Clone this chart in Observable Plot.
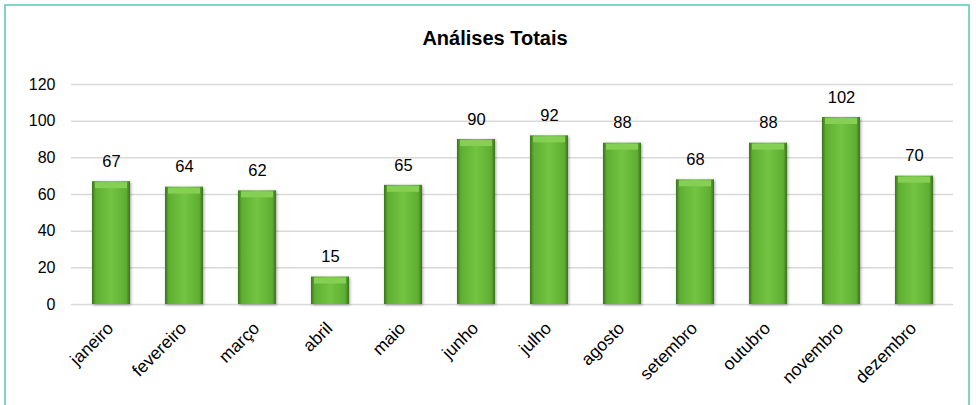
<!DOCTYPE html>
<html>
<head>
<meta charset="utf-8">
<script src="https://cdn.jsdelivr.net/npm/d3@7"></script>
<script src="https://cdn.jsdelivr.net/npm/@observablehq/plot@0.6"></script>
<style>
  html, body { margin: 0; padding: 0; background: #fff; }
  body { width: 976px; height: 405px; position: relative; overflow: hidden; font-family: "Liberation Sans", Arial, sans-serif; }
  #frame { position: absolute; left: 4px; top: 4px; width: 966px; height: 410px; border: 2px solid #7fd5c9; box-sizing: border-box; }
  #title { position: absolute; left: 0; top: 27px; width: 990px; text-align: center; font-size: 20px; line-height: 23px; font-weight: bold; color: #000; }
  #chart { position: absolute; left: 0; top: 60px; }
</style>
</head>
<body>
<div id="frame"></div>
<div id="title">Análises Totais</div>
<div id="chart"></div>
<script>
const months = ["janeiro","fevereiro","março","abril","maio","junho","julho","agosto","setembro","outubro","novembro","dezembro"];
const values = [67,64,62,15,65,90,92,88,68,88,102,70];
const yTicks = [0,20,40,60,80,100,120];

const data = months.map((m, i) => ({month: m, value: values[i]}));

const plot = Plot.plot({
  width: 976,
  height: 345,
  marginLeft: 71,
  marginRight: 23,
  marginTop: 24,
  marginBottom: 101,
  style: {fontFamily: "'Liberation Sans', Arial, sans-serif", fontSize: "16px", color: "#000", background: "transparent"},
  x: {domain: months, paddingInner: 0.48, paddingOuter: 0.24, label: null},
  y: {domain: [0, 120], label: null},
  marks: [
    Plot.gridY(yTicks, {stroke: "#d9d9d9", strokeOpacity: 1, strokeWidth: 1.5}),
    Plot.axisY({ticks: yTicks, tickSize: 0, tickPadding: 16, fontSize: 16, label: null}),
    Plot.axisX({tickSize: 0, tickPadding: 21, tickRotate: -45, dx: -1, fontSize: 17.5, label: null}),
    Plot.barY(data, {x: "month", y: "value", fill: "url(#barGrad)", imageFilter: "drop-shadow(1px 1px 1.5px rgba(0,0,0,0.35))"}),
    Plot.tickY(data, {x: "month", y: "value", stroke: "#86cf55", strokeWidth: 6, dy: 3.5, inset: 3}),
    Plot.text(data, {x: "month", y: "value", text: d => String(d.value), dy: -20, fontSize: 16.5, fill: "#000"})
  ]
});

// gradient defs
const ns = "http://www.w3.org/2000/svg";
const defs = document.createElementNS(ns, "defs");
defs.innerHTML = `
  <linearGradient id="barGrad" x1="0" x2="1" y1="0" y2="0">
    <stop offset="0" stop-color="#3b721c"/>
    <stop offset="0.1" stop-color="#5eae32"/>
    <stop offset="0.5" stop-color="#74c442"/>
    <stop offset="0.9" stop-color="#5eae32"/>
    <stop offset="1" stop-color="#3b721c"/>
  </linearGradient>`;
plot.insertBefore(defs, plot.firstChild);

document.getElementById("chart").appendChild(plot);
</script>
</body>
</html>
